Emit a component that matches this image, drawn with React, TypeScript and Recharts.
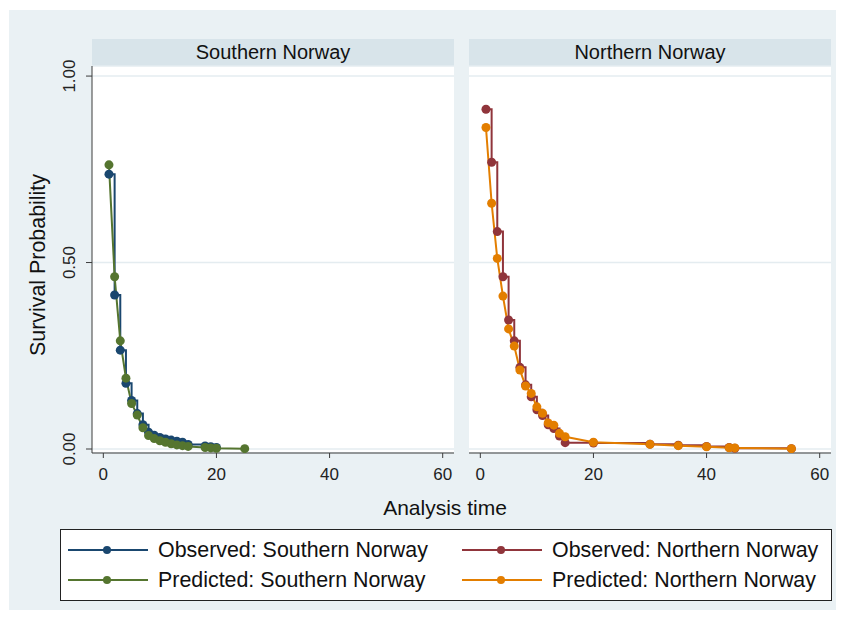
import { LineChart, Line, XAxis, YAxis, CartesianGrid } from 'recharts'

// analysis time points and survival probabilities per region
const southObsTime = [1, 2, 3, 4, 5, 6, 7, 8, 9, 10, 11, 12, 13, 14, 15, 18, 19, 20]
const southObsSurv = [0.737, 0.413, 0.265, 0.176, 0.13, 0.095, 0.065, 0.045, 0.037, 0.031, 0.027, 0.024, 0.021, 0.018, 0.012, 0.008, 0.006, 0.004]
const southPredTime = [1, 2, 3, 4, 5, 6, 7, 8, 9, 10, 11, 12, 13, 14, 15, 18, 19, 20, 25]
const southPredSurv = [0.762, 0.462, 0.29, 0.19, 0.122, 0.091, 0.057, 0.036, 0.028, 0.022, 0.018, 0.014, 0.011, 0.009, 0.007, 0.004, 0.003, 0.002, 0.001]
const northObsTime = [1, 2, 3, 4, 5, 6, 7, 8, 9, 10, 11, 12, 13, 14, 15, 20, 30, 35, 40, 44, 45, 55]
const northObsSurv = [0.911, 0.769, 0.583, 0.462, 0.346, 0.29, 0.219, 0.172, 0.14, 0.105, 0.09, 0.065, 0.055, 0.035, 0.017, 0.016, 0.013, 0.01, 0.007, 0.004, 0.002, 0.001]
const northPredTime = [1, 2, 3, 4, 5, 6, 7, 8, 9, 10, 11, 12, 13, 14, 15, 20, 30, 35, 40, 44, 45, 55]
const northPredSurv = [0.862, 0.659, 0.511, 0.41, 0.322, 0.276, 0.212, 0.169, 0.149, 0.113, 0.096, 0.07, 0.064, 0.042, 0.033, 0.018, 0.0126, 0.009, 0.006, 0.0035, 0.003, 0.001]

const timeTicks = [0, 20, 40, 60]
const probTicks = [0, 0.5, 1]
const probLabels = ['0.00', '0.50', '1.00']

const NAVY = '#1a476f'
const MAROON = '#90353b'
const GREEN = '#55752f'
const ORANGE = '#e37e00'
const FONT = '"Liberation Sans", Arial, Helvetica, sans-serif'
const AXIS = '#3c3c3c'

const zip = (t: number[], s: number[]) => t.map((v, i) => ({ t: v, s: s[i] }))

const PLOT_TOP = 66
const PLOT_H = 387
const PLOT_W = 362
const PAD_TOP = 24 // room above the plot so the rotated top tick label isn't clipped

const YTick = (props: any) => {
  const { x, y, payload } = props
  const idx = probTicks.indexOf(payload.value)
  return (
    <text x={x} y={y} transform={`rotate(-90 ${x} ${y})`} textAnchor="middle"
      fill="#222" fontSize={17} fontFamily={FONT}>
      {probLabels[idx]}
    </text>
  )
}

interface PanelProps {
  title: string
  left: number
  observed: { t: number; s: number }[]
  predicted: { t: number; s: number }[]
  obsColor: string
  predColor: string
  withYAxis: boolean
}

function Panel({ title, left, observed, predicted, obsColor, predColor, withYAxis }: PanelProps) {
  const yw = withYAxis ? 92 : 0
  return (
    <>
      <div style={{
        position: 'absolute', left: left, top: 39, width: PLOT_W, height: 27,
        background: '#d8e4ea', fontFamily: FONT, fontSize: 20, color: '#111',
        textAlign: 'center', lineHeight: '27px',
      }}>{title}</div>
      <div style={{ position: 'absolute', left: left - yw, top: PLOT_TOP - PAD_TOP }}>
        <LineChart width={PLOT_W + yw} height={PLOT_H + 45 + PAD_TOP} margin={{ top: PAD_TOP, right: 0, bottom: 0, left: 0 }}>
          <CartesianGrid vertical={false} fill="#ffffff" stroke="#e4ecf0" strokeWidth={1.5} />
          <XAxis type="number" dataKey="t" domain={[-2, 62]} ticks={timeTicks} allowDataOverflow
            height={45} stroke={AXIS} tickSize={5} tickMargin={10}
            tick={{ fill: '#222', fontSize: 17, fontFamily: FONT }} />
          <YAxis type="number" dataKey="s" domain={[-0.0107, 1.027]} ticks={probTicks} allowDataOverflow
            width={yw} hide={!withYAxis} stroke={AXIS} tickSize={6} tickMargin={11} tick={<YTick />} />
          <Line data={observed} dataKey="s" type="stepAfter" stroke={obsColor} strokeWidth={2}
            dot={{ r: 4.5, fill: obsColor, stroke: 'none' }} isAnimationActive={false} />
          <Line data={predicted} dataKey="s" type="linear" stroke={predColor} strokeWidth={2}
            dot={{ r: 4.5, fill: predColor, stroke: 'none' }} isAnimationActive={false} />
        </LineChart>
      </div>
    </>
  )
}

const legendItems = [
  { label: 'Observed: Southern Norway', color: NAVY },
  { label: 'Observed: Northern Norway', color: MAROON },
  { label: 'Predicted: Southern Norway', color: GREEN },
  { label: 'Predicted: Northern Norway', color: ORANGE },
]

function LegendKey({ label, color, x, y }: { label: string; color: string; x: number; y: number }) {
  return (
    <div style={{ position: 'absolute', left: x, top: y - 12, height: 24, display: 'flex', alignItems: 'center' }}>
      <svg width={80} height={12} style={{ display: 'block' }}>
        <line x1={0} y1={6} x2={80} y2={6} stroke={color} strokeWidth={2} />
        <circle cx={39} cy={6} r={4} fill={color} />
      </svg>
      <span style={{ marginLeft: 10, fontFamily: FONT, fontSize: 21.4, color: '#111', whiteSpace: 'nowrap' }}>{label}</span>
    </div>
  )
}

export default function App() {
  return (
    <div style={{ position: 'absolute', left: 0, top: 0, width: 845, height: 618, background: '#fff', overflow: 'hidden' }}>
      <div style={{ position: 'absolute', left: 9, top: 10, width: 827, height: 600, background: '#eaf1f4' }} />
      <Panel title="Southern Norway" left={92} observed={zip(southObsTime, southObsSurv)}
        predicted={zip(southPredTime, southPredSurv)} obsColor={NAVY} predColor={GREEN} withYAxis />
      <Panel title="Northern Norway" left={469} observed={zip(northObsTime, northObsSurv)}
        predicted={zip(northPredTime, northPredSurv)} obsColor={MAROON} predColor={ORANGE} withYAxis={false} />
      <div style={{
        position: 'absolute', left: 38, top: 265, transform: 'translate(-50%, -50%) rotate(-90deg)',
        fontFamily: FONT, fontSize: 21.4, color: '#111', whiteSpace: 'nowrap',
      }}>Survival Probability</div>
      <div style={{
        position: 'absolute', left: 445, top: 508, transform: 'translate(-50%, -50%)',
        fontFamily: FONT, fontSize: 21, color: '#111', whiteSpace: 'nowrap',
      }}>Analysis time</div>
      <div style={{ position: 'absolute', left: 60, top: 529, width: 770, height: 70, background: '#fff', border: '1px solid #222' }} />
      <LegendKey {...legendItems[0]} x={68} y={550} />
      <LegendKey {...legendItems[1]} x={462} y={550} />
      <LegendKey {...legendItems[2]} x={68} y={580} />
      <LegendKey {...legendItems[3]} x={462} y={580} />
    </div>
  )
}
